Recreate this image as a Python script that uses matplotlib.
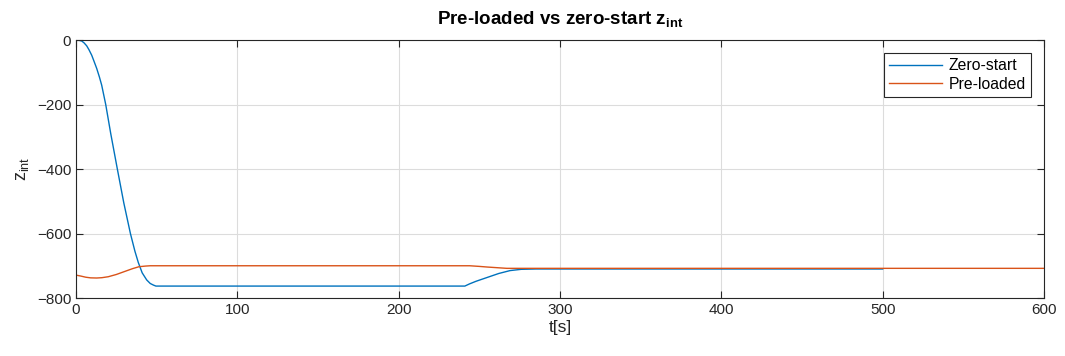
import matplotlib
matplotlib.use('Agg')
import matplotlib.pyplot as plt
import numpy as np

plt.rcParams['font.family'] = ['Liberation Sans', 'DejaVu Sans']
plt.rcParams['mathtext.fontset'] = 'custom'
plt.rcParams['mathtext.rm'] = 'Liberation Sans'
plt.rcParams['mathtext.bf'] = 'Liberation Sans:bold'

# zero-start run
t_zero = [0, 1.5, 3.5, 5, 6.6, 8, 9.7, 11, 12.8, 14.5, 15.9, 18.4, 21.5, 25.6, 29.6, 33.7,
          36.5, 38.6, 41, 43.8, 46, 48, 49.5, 100, 200, 241, 244, 248, 255, 262, 269, 276,
          285, 400, 500]
z_zero = [0, -0.5, -3, -9, -18, -30, -47, -64, -88, -115, -140, -200, -290, -400, -505, -600,
          -655, -690, -722, -744, -755, -760, -763, -763, -763, -763, -756, -748, -736, -724,
          -715, -711, -710, -710, -710]

# pre-loaded run
t_pre = [0, 3, 6, 9, 12.8, 16, 20, 25, 30, 35, 39, 43, 46, 50, 100, 200, 244, 250, 255, 261,
         267, 275, 400, 600]
z_pre = [-729, -732, -735.5, -737.5, -738, -737, -734, -727, -718, -709, -703, -701, -700,
         -700, -700, -700, -700, -702, -704, -706, -708, -708, -708, -708]

fig = plt.figure(figsize=(10.65, 3.56), dpi=100)
ax = fig.add_axes([0.0714, 0.1629, 0.9089, 0.7247])

ax.plot(t_zero, z_zero, color='#0072BD', lw=1.0, label='Zero-start')
ax.plot(t_pre, z_pre, color='#D95319', lw=1.0, label='Pre-loaded')

ax.set_xlim(0, 600)
ax.set_ylim(-800, 0)
ax.set_xticks(np.arange(0, 601, 100))
ax.set_yticks(np.arange(-800, 1, 200))
ax.grid(True, color='#dcdcdc', lw=0.8)
ax.set_axisbelow(True)
ax.tick_params(direction='in', length=5, top=True, right=True, labelsize=11,
               colors='#262626', width=0.8)
for s in ax.spines.values():
    s.set_color('#262626')
    s.set_linewidth(0.8)

ax.set_xlabel('t[s]', fontsize=12.5, color='#262626', labelpad=2)
ax.set_ylabel(r'z$_{\mathrm{int}}$', fontsize=13, color='#262626', labelpad=4)
ax.set_title(r'Pre-loaded vs zero-start z$_{\mathbf{int}}$', fontsize=13.5,
             fontweight='bold', color='black', pad=11)

leg = ax.legend(loc='upper right', fontsize=11.3, handlelength=3.4, borderaxespad=0.8,
                fancybox=False, edgecolor='#262626', framealpha=1, borderpad=0.35,
                labelspacing=0.25, handletextpad=0.4)
leg.get_frame().set_linewidth(0.8)

fig.savefig('out.png', dpi=100)
